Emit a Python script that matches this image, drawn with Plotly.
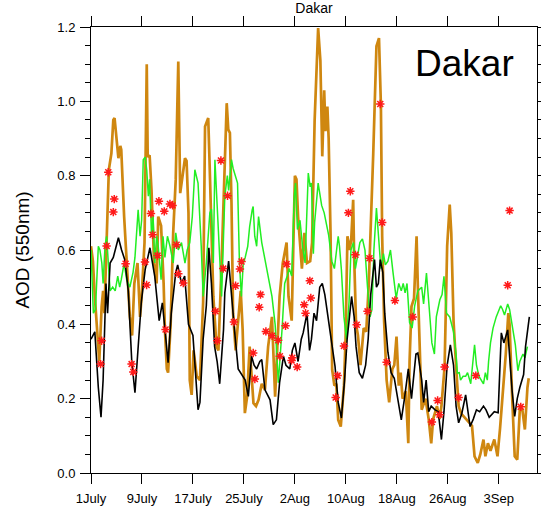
import plotly.graph_objects as go

# Days since 1 July; AOD at 550 nm
black_day = [0, 0.6, 1.15, 1.57, 1.9, 2.2, 2.35, 2.6, 3.0, 3.5, 4.3, 4.8, 5.3, 5.85, 6.4, 6.9, 7.4, 7.9,
             8.5, 9.25, 9.6, 10.0, 10.7, 11.2, 11.7, 12.1, 12.6, 13.3, 13.6, 14.2, 14.7, 15.3, 16.0, 16.8,
             17.1, 17.6, 18.1, 18.5, 18.9, 19.4, 19.8, 20.2, 20.8, 21.0, 21.6, 22.05, 22.6, 23.1, 23.8,
             24.2, 24.7, 25.2, 25.6, 26.0, 26.5, 26.8, 27.3, 28.1, 28.6, 29.1, 29.6, 30.2, 30.6, 31.2,
             31.6, 32.0, 32.5, 33.0, 33.3, 33.9, 34.3, 34.6, 35.0, 35.4, 35.9, 36.3, 36.7, 37.1, 37.5,
             38.3, 38.8, 39.3, 39.8, 40.2, 40.9, 41.3, 41.6, 42.1, 42.6, 43.1, 43.5, 43.9, 44.5, 44.8,
             45.1, 45.4, 45.8, 46.1, 46.6, 47.1, 47.6, 48.2, 48.7, 49.2, 49.8, 50.3, 50.7, 51.0, 51.3,
             51.9, 52.2, 52.6, 53.0, 53.4, 54.0, 54.5, 55.0, 55.4, 55.9, 56.4, 56.9, 57.3, 57.7, 58.2,
             58.8, 59.1, 59.5, 60.0, 60.5, 61.0, 61.6, 62.0, 62.5, 63.3, 63.9, 64.4, 64.8, 65.4, 65.8,
             66.1, 66.5, 66.9, 67.3, 67.9, 68.2, 68.8]
black_aod = [0.36, 0.38, 0.23, 0.15, 0.25, 0.42, 0.51, 0.43, 0.565, 0.58, 0.633, 0.60, 0.574, 0.49, 0.30,
             0.216, 0.35, 0.46, 0.547, 0.606, 0.57, 0.53, 0.41, 0.458, 0.37, 0.297, 0.43, 0.54, 0.56,
             0.51, 0.53, 0.40, 0.37, 0.17, 0.19, 0.36, 0.45, 0.606, 0.51, 0.34, 0.30, 0.24, 0.386, 0.485,
             0.57, 0.475, 0.37, 0.28, 0.26, 0.25, 0.206, 0.314, 0.29, 0.28, 0.30, 0.305, 0.224, 0.197,
             0.13, 0.143, 0.243, 0.314, 0.29, 0.28, 0.33, 0.35, 0.30, 0.36, 0.377, 0.43, 0.33, 0.36,
             0.43, 0.41, 0.50, 0.51, 0.48, 0.43, 0.38, 0.287, 0.19, 0.148, 0.25, 0.36, 0.475, 0.42, 0.34,
             0.27, 0.255, 0.29, 0.36, 0.48, 0.574, 0.50, 0.51, 0.574, 0.54, 0.43, 0.325, 0.27, 0.255,
             0.19, 0.143, 0.20, 0.28, 0.20, 0.26, 0.32, 0.323, 0.25, 0.19, 0.25, 0.165, 0.18, 0.17,
             0.165, 0.09, 0.165, 0.29, 0.345, 0.29, 0.18, 0.135, 0.16, 0.21, 0.17, 0.125, 0.145, 0.17,
             0.165, 0.18, 0.17, 0.15, 0.165, 0.162, 0.377, 0.35, 0.385, 0.29, 0.22, 0.152, 0.20, 0.23,
             0.265, 0.34, 0.42]

orange_day = [0, 0.3, 0.6, 1.15, 1.3, 1.67, 1.9, 2.1, 2.45, 2.8, 3.2, 3.5, 3.7, 4.0, 4.3, 4.6, 4.75, 5.2,
              5.6, 6.1, 6.45, 6.8, 7.3, 7.7, 7.95, 8.4, 8.75, 8.9, 9.2, 9.5, 9.9, 10.3, 10.55, 11.0,
              11.4, 11.6, 11.9, 12.1, 12.5, 12.9, 13.3, 13.7, 14.0, 14.4, 14.75, 15.0, 15.3, 15.5, 15.8,
              16.1, 16.6, 17.1, 17.35, 17.6, 17.9, 18.1, 18.4, 18.6, 19.2, 19.7, 20.0, 20.5, 21.0, 21.3,
              21.55, 21.8, 22.05, 22.3, 22.7, 23.1, 23.5, 23.8, 24.15, 24.5, 24.9, 25.5, 25.9, 26.3,
              26.8, 27.3, 27.8, 28.4, 28.9, 29.6, 30.1, 30.7, 31.0, 31.5, 32.0, 32.25, 32.5, 33.1, 33.5,
              33.9, 34.4, 34.7, 35.1, 35.65, 36.0, 36.3, 36.6, 36.8, 37.1, 37.3, 37.6, 37.85, 38.2,
              38.5, 38.8, 39.2, 39.7, 39.95, 40.25, 40.6, 40.85, 41.15, 41.3, 41.6, 41.9, 42.3, 42.8,
              43.2, 43.6, 44.3, 44.8, 45.2, 45.5, 45.7, 46.0, 46.4, 46.8, 47.3, 47.6, 47.95, 48.3, 48.6,
              48.9, 49.4, 49.8, 50.0, 50.3, 50.7, 51.1, 51.3, 51.6, 51.9, 52.5, 53.0, 53.4, 53.7, 54.3,
              54.7, 55.0, 55.5, 55.9, 56.3, 56.55, 56.9, 57.3, 57.7, 58.1, 58.8, 59.4, 59.8, 60.2, 60.7,
              61.1, 61.6, 61.9, 62.3, 62.7, 63.3, 63.8, 64.2, 64.7, 65.1, 65.5, 65.7, 66.1, 66.5, 66.9,
              67.3, 67.7, 68.1, 68.5, 68.7]
orange_aod = [0.61, 0.57, 0.475, 0.314, 0.30, 0.448, 0.49, 0.43, 0.61, 0.816, 0.86, 0.95, 0.955, 0.90,
              0.847, 0.88, 0.87, 0.69, 0.565, 0.42, 0.37, 0.51, 0.565, 0.42, 0.475, 0.62, 1.10, 0.85,
              0.855, 0.76, 0.565, 0.51, 0.69, 0.665, 0.51, 0.386, 0.28, 0.27, 0.40, 0.646, 0.79, 1.107,
              0.753, 0.81, 0.847, 0.84, 0.70, 0.25, 0.21, 0.33, 0.26, 0.25, 0.386, 0.46, 0.932, 0.94,
              0.955, 0.84, 0.475, 0.34, 0.33, 0.565, 0.85, 0.995, 0.924, 0.915, 0.727, 0.43, 0.33, 0.41,
              0.49, 0.386, 0.161, 0.205, 0.34, 0.188, 0.18, 0.197, 0.24, 0.224, 0.34, 0.42, 0.205, 0.475,
              0.565, 0.62, 0.475, 0.41, 0.80, 0.79, 0.69, 0.55, 0.646, 0.565, 0.57, 0.62, 0.95, 1.197,
              1.11, 0.852, 1.03, 0.92, 0.986, 0.90, 0.64, 0.278, 0.235, 0.24, 0.143, 0.125, 0.235, 0.359,
              0.637, 0.60, 0.63, 0.735, 0.583, 0.40, 0.37, 0.29, 0.39, 0.38, 0.51, 0.86, 1.148, 1.17,
              0.99, 0.637, 0.41, 0.25, 0.19, 0.28, 0.29, 0.367, 0.235, 0.27, 0.20, 0.22, 0.08, 0.30,
              0.448, 0.47, 0.637, 0.50, 0.32, 0.17, 0.20, 0.145, 0.08, 0.145, 0.18, 0.145, 0.18, 0.287,
              0.61, 0.722, 0.645, 0.41, 0.287, 0.18, 0.16, 0.145, 0.135, 0.127, 0.045, 0.027, 0.05, 0.09,
              0.045, 0.08, 0.06, 0.09, 0.045, 0.12, 0.224, 0.32, 0.43, 0.40, 0.205, 0.045, 0.036, 0.17,
              0.17, 0.117, 0.23, 0.255]

green_day = [0, 0.37, 0.7, 1.15, 1.4, 1.7, 1.9, 2.2, 2.45, 2.7, 3.0, 3.4, 3.8, 4.2, 4.5, 4.75, 5.2, 5.6,
             6.1, 6.6, 6.9, 7.4, 7.7, 7.95, 8.2, 8.5, 8.75, 9.0, 9.2, 9.5, 9.75, 10.0, 10.3, 10.55, 10.8,
             11.0, 11.3, 11.6, 12.0, 12.4, 12.9, 13.3, 13.7, 14.2, 14.75, 15.1, 15.5, 15.9, 16.3, 16.8,
             17.3, 17.6, 18.1, 18.65, 18.9, 19.2, 19.45, 19.7, 20.1, 20.5, 21.0, 21.4, 21.6, 22.05, 22.3,
             22.7, 23.0, 23.3, 23.6, 23.9, 24.2, 24.6, 24.9, 25.3, 25.45, 25.7, 26.0, 26.3, 26.55, 26.8,
             27.3, 27.8, 28.4, 28.9, 29.4, 30.0, 30.4, 30.8, 31.1, 31.5, 31.9, 32.1, 32.4, 32.8, 33.2,
             33.6, 34.1, 34.4, 34.6, 34.9, 35.1, 35.65, 36.2, 36.6, 37.0, 37.3, 37.8, 38.2, 38.8, 39.0,
             39.3, 39.7, 40.1, 40.5, 40.8, 41.2, 41.5, 41.9, 42.2, 42.6, 43.0, 43.4, 43.8, 44.1, 44.4,
             44.8, 45.1, 45.5, 45.9, 46.2, 46.6, 47.0, 47.4, 47.9, 48.3, 48.7, 49.0, 49.3, 49.6, 50.0,
             50.4, 50.8, 51.3, 51.9, 52.2, 52.65, 53.1, 53.5, 53.9, 54.2, 54.75, 55.1, 55.4, 55.8, 56.3,
             56.9, 57.3, 57.5, 57.8, 58.0, 58.4, 58.8, 59.1, 59.6, 60.2, 60.5, 60.9, 61.2, 61.6, 61.9,
             62.2, 62.4, 62.7, 63.1, 63.6, 64.3, 64.6, 64.9, 65.4, 65.7, 66.0, 66.6, 67.0, 67.3, 67.8,
             68.1, 68.5]
green_aod = [0.60, 0.43, 0.44, 0.61, 0.60, 0.565, 0.51, 0.61, 0.637, 0.58, 0.49, 0.50, 0.49, 0.53, 0.50,
             0.52, 0.565, 0.52, 0.50, 0.54, 0.58, 0.708, 0.637, 0.68, 0.843, 0.85, 0.815, 0.745, 0.79,
             0.637, 0.69, 0.565, 0.637, 0.61, 0.565, 0.52, 0.637, 0.58, 0.637, 0.61, 0.565, 0.646, 0.60,
             0.62, 0.565, 0.60, 0.62, 0.69, 0.816, 0.78, 0.61, 0.475, 0.565, 0.70, 0.71, 0.565, 0.843,
             0.76, 0.61, 0.475, 0.745, 0.80, 0.76, 0.843, 0.82, 0.80, 0.78, 0.565, 0.475, 0.565, 0.58,
             0.61, 0.663, 0.708, 0.717, 0.637, 0.61, 0.69, 0.655, 0.62, 0.575, 0.53, 0.475, 0.40, 0.243,
             0.39, 0.51, 0.53, 0.55, 0.53, 0.744, 0.78, 0.655, 0.68, 0.61, 0.565, 0.807, 0.77, 0.78, 0.59,
             0.675, 0.78, 0.72, 0.70, 0.66, 0.64, 0.57, 0.55, 0.637, 0.61, 0.547, 0.42, 0.36, 0.46, 0.60,
             0.62, 0.55, 0.585, 0.62, 0.63, 0.60, 0.50, 0.42, 0.44, 0.60, 0.713, 0.645, 0.55, 0.59, 0.56,
             0.57, 0.60, 0.54, 0.47, 0.51, 0.49, 0.51, 0.485, 0.51, 0.405, 0.39, 0.45, 0.49, 0.50, 0.455,
             0.538, 0.44, 0.35, 0.32, 0.42, 0.466, 0.48, 0.529, 0.43, 0.42, 0.38, 0.32, 0.269, 0.27,
             0.25, 0.26, 0.26, 0.27, 0.24, 0.345, 0.29, 0.26, 0.25, 0.24, 0.27, 0.25, 0.30, 0.35, 0.39,
             0.42, 0.45, 0.44, 0.425, 0.455, 0.44, 0.41, 0.345, 0.275, 0.30, 0.32, 0.31, 0.34]

# Station observations
obs_day = [1.51, 1.67, 2.45, 2.71, 3.5, 3.65, 5.43, 6.37, 6.64, 8.47, 8.73, 9.41, 9.67, 10.45, 10.66,
           11.5, 11.7, 12.39, 12.8, 13.43, 13.7, 14.48, 19.55, 19.81, 20.39, 20.75, 21.43, 22.43, 22.69,
           23.37, 23.63, 25.46, 25.72, 26.4, 26.6, 27.45, 28.44, 29.38, 29.64, 30.53, 30.69, 31.47,
           31.6, 32.36, 33.46, 33.67, 34.35, 34.5, 38.4, 38.7, 39.7, 40.4, 40.7, 41.5, 41.7, 43.4, 43.7,
           45.4, 45.7, 46.4, 47.7, 50.5, 53.5, 54.4, 54.7, 55.5, 57.7, 60.4, 65.4, 65.7, 67.45]
obs_aod = [0.293, 0.356, 0.611, 0.809, 0.702, 0.737, 0.563, 0.293, 0.272, 0.568, 0.506, 0.698, 0.641,
           0.585, 0.731, 0.704, 0.386, 0.724, 0.72, 0.614, 0.536, 0.511, 0.435, 0.356, 0.841, 0.55,
           0.746, 0.406, 0.504, 0.549, 0.569, 0.323, 0.253, 0.446, 0.48, 0.381, 0.369, 0.357, 0.314,
           0.396, 0.562, 0.303, 0.31, 0.285, 0.453, 0.43, 0.517, 0.471, 0.203, 0.262, 0.342, 0.70,
           0.758, 0.587, 0.399, 0.435, 0.578, 0.993, 0.674, 0.298, 0.464, 0.42, 0.137, 0.195, 0.157,
           0.285, 0.203, 0.262, 0.505, 0.706, 0.178]

tick_days = [0, 8, 16, 24, 32, 40, 48, 56, 64]
tick_text = ["1July", "9July", "17July", "25July", "2Aug", "10Aug", "18Aug", "26Aug", "3Sep"]

FONT = "Liberation Sans, Arial, Helvetica, sans-serif"

fig = go.Figure()
fig.add_trace(go.Scatter(x=orange_day, y=orange_aod, mode="lines",
                         line=dict(color="#CF8710", width=2.7), showlegend=False))
fig.add_trace(go.Scatter(x=green_day, y=green_aod, mode="lines",
                         line=dict(color="#22EE22", width=1.5), showlegend=False))
fig.add_trace(go.Scatter(x=black_day, y=black_aod, mode="lines",
                         line=dict(color="black", width=1.6), showlegend=False))
fig.add_trace(go.Scatter(x=obs_day, y=obs_aod, mode="markers",
                         marker=dict(symbol="asterisk", size=7, color="#FF1A1A",
                                     line=dict(color="#FF1A1A", width=1.5)),
                         showlegend=False))

fig.update_layout(
    width=541, height=510,
    margin=dict(l=91, r=4, t=27, b=37, autoexpand=False),
    paper_bgcolor="white", plot_bgcolor="white",
    font=dict(family=FONT, size=13, color="black"),
    title=dict(text="Dakar", x=0.5, xref="paper", xanchor="center",
               y=1 - 8.5 / 510, yref="container", yanchor="middle",
               font=dict(family=FONT, size=14, color="black"), automargin=False),
    annotations=[dict(text="Dakar", xref="paper", yref="paper", x=0.952, y=0.918,
                      xanchor="right", yanchor="middle", showarrow=False,
                      font=dict(family=FONT, size=37, color="black"))],
)
fig.update_xaxes(range=[0, 70], tickvals=tick_days, ticktext=tick_text, automargin=False,
                 showline=True, linecolor="black", linewidth=1, mirror="allticks",
                 ticks="outside", ticklen=10, tickwidth=1, tickcolor="black", ticklabelstandoff=3,
                 showgrid=False, zeroline=False, fixedrange=True)
fig.update_yaxes(range=[0, 1.2], dtick=0.2, tick0=0, tickformat=".1f", automargin=False,
                 showline=True, linecolor="black", linewidth=1, mirror="allticks",
                 ticks="outside", ticklen=10, tickwidth=1, tickcolor="black", ticklabelstandoff=2,
                 minor=dict(dtick=0.05, ticks="outside", ticklen=5, tickcolor="black", tickwidth=1),
                 showgrid=False, zeroline=False, fixedrange=True,
                 title=dict(text="AOD (550nm)", font=dict(family=FONT, size=19), standoff=22))

fig.write_html("out.html")
